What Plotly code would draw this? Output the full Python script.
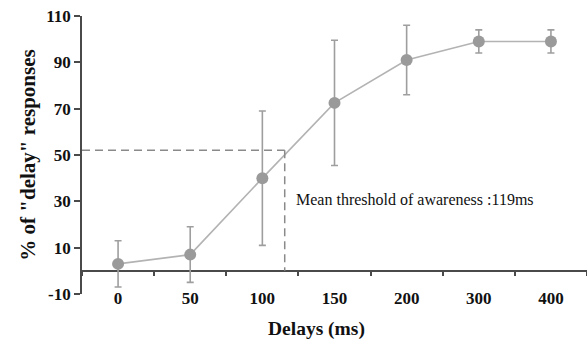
import plotly.graph_objects as go

delays = ["0", "50", "100", "150", "200", "300", "400"]
pct_delay = [3, 7, 40, 72.5, 91, 99, 99]
sem = [10, 12, 29, 27, 15, 5, 5]
y_ticks = [-10, 10, 30, 50, 70, 90, 110]

threshold_label = "Mean threshold of awareness :119ms"
threshold_pct = 52
threshold_x = 2.31   # position on the category axis (between 100 and 150)
label_y = 31

FONT = "Liberation Serif, Times New Roman, serif"
AXIS = "#4a4a4a"

fig = go.Figure()
fig.add_trace(go.Scatter(
    x=delays, y=pct_delay, mode="lines+markers",
    line=dict(color="#b3b3b3", width=1.6),
    marker=dict(color="#9a9a9a", size=12),
    error_y=dict(type="data", array=sem, visible=True, color="#9e9e9e",
                 thickness=1.6, width=3.5),
    showlegend=False,
))

# dashed threshold guides
fig.add_shape(type="line", xref="x", yref="y", x0=-0.5, x1=threshold_x,
              y0=threshold_pct, y1=threshold_pct,
              line=dict(color="#8a8a8a", width=1.5, dash="8px,5px"))
fig.add_shape(type="line", xref="x", yref="y", x0=threshold_x, x1=threshold_x,
              y0=threshold_pct, y1=0,
              line=dict(color="#8a8a8a", width=1.5, dash="8px,5px"))

fig.add_annotation(x=threshold_x, y=label_y, xref="x", yref="y", xshift=9,
                   text=threshold_label, showarrow=False, xanchor="left",
                   font=dict(family=FONT, size=16, color="#111"))

fig.add_annotation(x=0.464, y=-0.126, xref="paper", yref="paper",
                   text="<b>Delays (ms)</b>", showarrow=False,
                   xanchor="center", yanchor="middle",
                   font=dict(family=FONT, size=19.5, color="#111"))

fig.update_layout(
    width=587, height=341,
    margin=dict(l=82, r=0, t=16, b=47),
    paper_bgcolor="white", plot_bgcolor="white",
    font=dict(family=FONT, color="#111"),
    xaxis=dict(
        type="category", categoryorder="array", categoryarray=delays,
        range=[-0.5, len(delays) - 0.5],
        anchor="free", position=10 / 120,
        tickson="boundaries", ticks="outside", ticklen=4, tickwidth=1.5,
        tickcolor=AXIS, showline=False, showgrid=False, zeroline=False,
        ticklabelstandoff=15,
        tickfont=dict(family=FONT, size=17, color="#111", weight="bold"),
        automargin=False,
    ),
    yaxis=dict(
        range=[-10, 110], tickvals=y_ticks,
        ticktext=[str(v) for v in y_ticks],
        ticks="outside", ticklen=6, tickwidth=1.5, tickcolor=AXIS,
        showline=True, linecolor=AXIS, linewidth=1.8,
        showgrid=False, zeroline=True, zerolinecolor=AXIS, zerolinewidth=1.8,
        tickfont=dict(family=FONT, size=17, color="#111", weight="bold"),
        title=dict(text='<b>% of "delay" responses</b>', standoff=5,
                   font=dict(family=FONT, size=21, color="#111")),
        automargin=False,
    ),
)

fig.write_html("out.html", config={"displayModeBar": False},
               post_script="document.body.style.margin='0';document.body.style.padding='0';")
